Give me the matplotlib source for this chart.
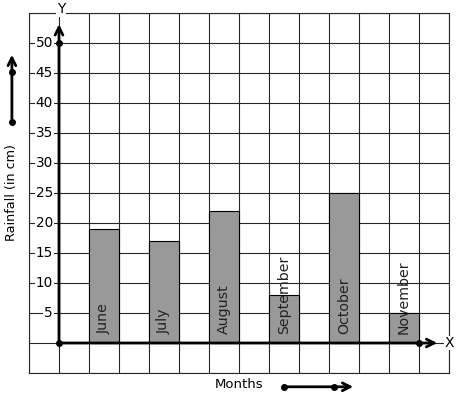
import numpy as np
import matplotlib.pyplot as plt

# rainfall per month, in cm
months = ["June", "July", "August", "September", "October", "November"]
rainfall = [19, 17, 22, 8, 25, 5]
y_ticks = [5, 10, 15, 20, 25, 30, 35, 40, 45, 50]

W, H = 457, 399
fig = plt.figure(figsize=(W / 100, H / 100), dpi=100)
# grid box spans pixels x 29..449, y 13..373
ax = fig.add_axes([29 / W, (H - 373) / H, 420 / W, 360 / H])
ax.set_xlim(-1, 13)
ax.set_ylim(-5, 55)

grid_col = "#262626"
ax.set_xticks(np.arange(-1, 14, 1))
ax.set_yticks(np.arange(-5, 56, 5))
ax.tick_params(length=0, labelbottom=False, labelleft=False)
ax.grid(True, color=grid_col, linewidth=0.8)
for sp in ax.spines.values():
    sp.set_color(grid_col)
    sp.set_linewidth(0.8)

# bars on every other column
x = np.arange(len(months)) * 2 + 1.5
ax.bar(x, rainfall, width=1, color="#999999", edgecolor="black", linewidth=0.8, zorder=3)
for xi, name in zip(x, months):
    ax.text(xi, 1.5, name, rotation=90, ha="center", va="bottom",
            fontsize=10.2, color="#222222", zorder=5)

# y tick labels sitting on the grid lines
for t in y_ticks:
    ax.text(-0.2, t, str(t), ha="right", va="center", fontsize=9.8, zorder=4,
            bbox=dict(facecolor="white", edgecolor="none", pad=0.6))

# axes with arrows
arr = dict(arrowstyle="->", color="black", lw=2, mutation_scale=14)
ax.annotate("", xy=(12.7, 0), xytext=(0, 0), arrowprops=arr, annotation_clip=False, zorder=6)
ax.annotate("", xy=(0, 53.6), xytext=(0, 0), arrowprops=arr, annotation_clip=False, zorder=6)
ax.plot([0, 0, 12], [0, 50, 0], "o", color="black", markersize=4, zorder=7, clip_on=False)
ax.text(13.0, 0, "X", ha="center", va="center", fontsize=10,
        bbox=dict(facecolor="white", edgecolor="none", pad=0.3), zorder=6)
ax.text(0.07, 55.6, "Y", ha="center", va="center", fontsize=10,
        bbox=dict(facecolor="white", edgecolor="none", pad=0.3), zorder=6)

# axis titles with side arrows
ax.text(-1.57, 25, "Rainfall (in cm)", rotation=90, ha="center", va="center", fontsize=9.2)
ax.annotate("", xy=(-1.57, 48.5), xytext=(-1.57, 36.8), arrowprops=arr, annotation_clip=False)
ax.plot([-1.57, -1.57], [36.8, 45.2], "o", color="black", markersize=4, clip_on=False)

ax.text(6.0, -7.0, "Months", ha="center", va="center", fontsize=9.5)
ax.annotate("", xy=(9.9, -7.3), xytext=(7.5, -7.3), arrowprops=arr, annotation_clip=False)
ax.plot([7.5, 9.17], [-7.3, -7.3], "o", color="black", markersize=4, clip_on=False)

fig.savefig("out.png", dpi=100)
